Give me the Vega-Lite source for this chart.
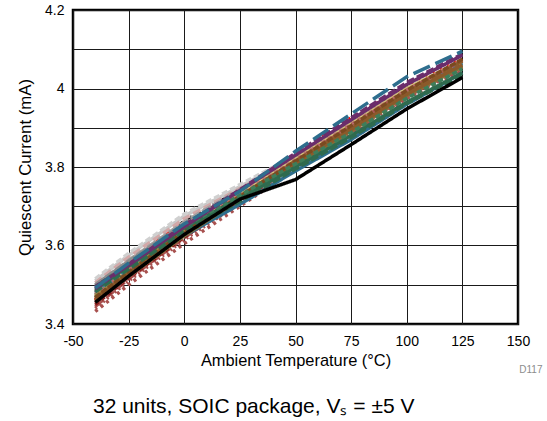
{
  "$schema": "https://vega.github.io/schema/vega-lite/v6.json",
  "width": 445,
  "height": 314,
  "autosize": {"type": "none"},
  "padding": {"left": 73, "top": 10, "right": 29, "bottom": 97},
  "background": "white",
  "config": {
    "font": "Liberation Sans",
    "view": {"stroke": "black", "strokeWidth": 2.5},
    "axis": {"labelFont": "Liberation Sans", "titleFont": "Liberation Sans", "labelColor": "black", "titleColor": "black", "titleFontWeight": "normal", "labelFontSize": 14, "titleFontSize": 16.4, "tickSize": 0, "domain": false, "gridColor": "#1a1a1a", "gridOpacity": 1, "gridWidth": 1}
  },
  "title": {"text": "32 units, SOIC package, Vₛ = ±5 V", "orient": "bottom", "anchor": "start", "frame": "group", "dx": 20, "offset": 22, "fontSize": 21, "fontWeight": "normal", "font": "Liberation Sans", "color": "black"},
  "data": {"values": [
    {"u":"U02","t":-40,"v":3.468},{"u":"U02","t":-25,"v":3.545},{"u":"U02","t":0,"v":3.662},{"u":"U02","t":25,"v":3.740},{"u":"U02","t":50,"v":3.812},{"u":"U02","t":75,"v":3.898},{"u":"U02","t":100,"v":3.988},{"u":"U02","t":125,"v":4.060},
    {"u":"U03","t":-40,"v":3.460},{"u":"U03","t":-25,"v":3.545},{"u":"U03","t":0,"v":3.672},{"u":"U03","t":25,"v":3.735},{"u":"U03","t":50,"v":3.808},{"u":"U03","t":75,"v":3.915},{"u":"U03","t":100,"v":3.980},{"u":"U03","t":125,"v":4.058},
    {"u":"U04","t":-40,"v":3.480},{"u":"U04","t":-25,"v":3.528},{"u":"U04","t":0,"v":3.650},{"u":"U04","t":25,"v":3.730},{"u":"U04","t":50,"v":3.822},{"u":"U04","t":75,"v":3.905},{"u":"U04","t":100,"v":3.995},{"u":"U04","t":125,"v":4.065},
    {"u":"U30","t":-40,"v":3.462},{"u":"U30","t":-25,"v":3.535},{"u":"U30","t":0,"v":3.655},{"u":"U30","t":25,"v":3.735},{"u":"U30","t":50,"v":3.830},{"u":"U30","t":75,"v":3.925},{"u":"U30","t":100,"v":4.005},{"u":"U30","t":125,"v":4.075},
    {"u":"U07","t":-40,"v":3.510},{"u":"U07","t":-25,"v":3.575},{"u":"U07","t":0,"v":3.675},{"u":"U07","t":25,"v":3.750},{"u":"U07","t":50,"v":3.825},{"u":"U07","t":75,"v":3.905},{"u":"U07","t":100,"v":3.992},{"u":"U07","t":125,"v":4.065},
    {"u":"U28","t":-40,"v":3.515},{"u":"U28","t":-25,"v":3.580},{"u":"U28","t":0,"v":3.680},{"u":"U28","t":25,"v":3.755},{"u":"U28","t":50,"v":3.830},{"u":"U28","t":75,"v":3.910},{"u":"U28","t":100,"v":3.995},{"u":"U28","t":125,"v":4.068},
    {"u":"U08","t":-40,"v":3.505},{"u":"U08","t":-25,"v":3.570},{"u":"U08","t":0,"v":3.668},{"u":"U08","t":25,"v":3.745},{"u":"U08","t":50,"v":3.820},{"u":"U08","t":75,"v":3.900},{"u":"U08","t":100,"v":3.985},{"u":"U08","t":125,"v":4.060},
    {"u":"U29","t":-40,"v":3.498},{"u":"U29","t":-25,"v":3.562},{"u":"U29","t":0,"v":3.660},{"u":"U29","t":25,"v":3.742},{"u":"U29","t":50,"v":3.825},{"u":"U29","t":75,"v":3.910},{"u":"U29","t":100,"v":3.998},{"u":"U29","t":125,"v":4.070},
    {"u":"U18","t":-40,"v":3.500},{"u":"U18","t":-25,"v":3.560},{"u":"U18","t":0,"v":3.655},{"u":"U18","t":25,"v":3.735},{"u":"U18","t":50,"v":3.818},{"u":"U18","t":75,"v":3.900},{"u":"U18","t":100,"v":3.988},{"u":"U18","t":125,"v":4.062},
    {"u":"U19","t":-40,"v":3.485},{"u":"U19","t":-25,"v":3.545},{"u":"U19","t":0,"v":3.642},{"u":"U19","t":25,"v":3.726},{"u":"U19","t":50,"v":3.812},{"u":"U19","t":75,"v":3.898},{"u":"U19","t":100,"v":3.986},{"u":"U19","t":125,"v":4.058},
    {"u":"U17","t":-40,"v":3.470},{"u":"U17","t":-25,"v":3.535},{"u":"U17","t":0,"v":3.640},{"u":"U17","t":25,"v":3.730},{"u":"U17","t":50,"v":3.818},{"u":"U17","t":75,"v":3.905},{"u":"U17","t":100,"v":3.998},{"u":"U17","t":125,"v":4.068},
    {"u":"U27","t":-40,"v":3.478},{"u":"U27","t":-25,"v":3.542},{"u":"U27","t":0,"v":3.645},{"u":"U27","t":25,"v":3.735},{"u":"U27","t":50,"v":3.822},{"u":"U27","t":75,"v":3.910},{"u":"U27","t":100,"v":4.000},{"u":"U27","t":125,"v":4.072},
    {"u":"U05","t":-40,"v":3.432},{"u":"U05","t":-25,"v":3.500},{"u":"U05","t":0,"v":3.605},{"u":"U05","t":25,"v":3.700},{"u":"U05","t":50,"v":3.795},{"u":"U05","t":75,"v":3.880},{"u":"U05","t":100,"v":3.975},{"u":"U05","t":125,"v":4.045},
    {"u":"U06","t":-40,"v":3.445},{"u":"U06","t":-25,"v":3.515},{"u":"U06","t":0,"v":3.620},{"u":"U06","t":25,"v":3.715},{"u":"U06","t":50,"v":3.805},{"u":"U06","t":75,"v":3.890},{"u":"U06","t":100,"v":3.980},{"u":"U06","t":125,"v":4.055},
    {"u":"U32","t":-40,"v":3.440},{"u":"U32","t":-25,"v":3.510},{"u":"U32","t":0,"v":3.615},{"u":"U32","t":25,"v":3.708},{"u":"U32","t":50,"v":3.800},{"u":"U32","t":75,"v":3.885},{"u":"U32","t":100,"v":3.978},{"u":"U32","t":125,"v":4.050},
    {"u":"U24","t":-40,"v":3.450},{"u":"U24","t":-25,"v":3.518},{"u":"U24","t":0,"v":3.622},{"u":"U24","t":25,"v":3.715},{"u":"U24","t":50,"v":3.805},{"u":"U24","t":75,"v":3.895},{"u":"U24","t":100,"v":3.985},{"u":"U24","t":125,"v":4.060},
    {"u":"U10","t":-40,"v":3.475},{"u":"U10","t":-25,"v":3.530},{"u":"U10","t":0,"v":3.625},{"u":"U10","t":25,"v":3.705},{"u":"U10","t":50,"v":3.790},{"u":"U10","t":75,"v":3.870},{"u":"U10","t":100,"v":3.960},{"u":"U10","t":125,"v":4.040},
    {"u":"U23","t":-40,"v":3.480},{"u":"U23","t":-25,"v":3.542},{"u":"U23","t":0,"v":3.638},{"u":"U23","t":25,"v":3.722},{"u":"U23","t":50,"v":3.812},{"u":"U23","t":75,"v":3.900},{"u":"U23","t":100,"v":3.990},{"u":"U23","t":125,"v":4.065},
    {"u":"U20","t":-40,"v":3.455},{"u":"U20","t":-25,"v":3.520},{"u":"U20","t":0,"v":3.628},{"u":"U20","t":25,"v":3.725},{"u":"U20","t":50,"v":3.815},{"u":"U20","t":75,"v":3.905},{"u":"U20","t":100,"v":3.995},{"u":"U20","t":125,"v":4.072},
    {"u":"U21","t":-40,"v":3.475},{"u":"U21","t":-25,"v":3.538},{"u":"U21","t":0,"v":3.640},{"u":"U21","t":25,"v":3.728},{"u":"U21","t":50,"v":3.818},{"u":"U21","t":75,"v":3.908},{"u":"U21","t":100,"v":3.996},{"u":"U21","t":125,"v":4.070},
    {"u":"U31","t":-40,"v":3.472},{"u":"U31","t":-25,"v":3.536},{"u":"U31","t":0,"v":3.638},{"u":"U31","t":25,"v":3.724},{"u":"U31","t":50,"v":3.810},{"u":"U31","t":75,"v":3.896},{"u":"U31","t":100,"v":3.986},{"u":"U31","t":125,"v":4.058},
    {"u":"U16","t":-40,"v":3.458},{"u":"U16","t":-25,"v":3.522},{"u":"U16","t":0,"v":3.625},{"u":"U16","t":25,"v":3.718},{"u":"U16","t":50,"v":3.805},{"u":"U16","t":75,"v":3.892},{"u":"U16","t":100,"v":3.982},{"u":"U16","t":125,"v":4.055},
    {"u":"U14","t":-40,"v":3.465},{"u":"U14","t":-25,"v":3.530},{"u":"U14","t":0,"v":3.632},{"u":"U14","t":25,"v":3.722},{"u":"U14","t":50,"v":3.810},{"u":"U14","t":75,"v":3.895},{"u":"U14","t":100,"v":3.985},{"u":"U14","t":125,"v":4.060},
    {"u":"U15","t":-40,"v":3.462},{"u":"U15","t":-25,"v":3.528},{"u":"U15","t":0,"v":3.630},{"u":"U15","t":25,"v":3.725},{"u":"U15","t":50,"v":3.815},{"u":"U15","t":75,"v":3.900},{"u":"U15","t":100,"v":3.990},{"u":"U15","t":125,"v":4.070},
    {"u":"U26","t":-40,"v":3.468},{"u":"U26","t":-25,"v":3.532},{"u":"U26","t":0,"v":3.636},{"u":"U26","t":25,"v":3.725},{"u":"U26","t":50,"v":3.815},{"u":"U26","t":75,"v":3.905},{"u":"U26","t":100,"v":3.995},{"u":"U26","t":125,"v":4.075},
    {"u":"U12","t":-40,"v":3.488},{"u":"U12","t":-25,"v":3.548},{"u":"U12","t":0,"v":3.645},{"u":"U12","t":25,"v":3.720},{"u":"U12","t":50,"v":3.800},{"u":"U12","t":75,"v":3.880},{"u":"U12","t":100,"v":3.965},{"u":"U12","t":125,"v":4.040},
    {"u":"U13","t":-40,"v":3.482},{"u":"U13","t":-25,"v":3.540},{"u":"U13","t":0,"v":3.635},{"u":"U13","t":25,"v":3.712},{"u":"U13","t":50,"v":3.795},{"u":"U13","t":75,"v":3.875},{"u":"U13","t":100,"v":3.962},{"u":"U13","t":125,"v":4.035},
    {"u":"U25","t":-40,"v":3.495},{"u":"U25","t":-25,"v":3.552},{"u":"U25","t":0,"v":3.648},{"u":"U25","t":25,"v":3.728},{"u":"U25","t":50,"v":3.808},{"u":"U25","t":75,"v":3.888},{"u":"U25","t":100,"v":3.975},{"u":"U25","t":125,"v":4.050},
    {"u":"U11","t":-40,"v":3.495},{"u":"U11","t":-25,"v":3.550},{"u":"U11","t":0,"v":3.648},{"u":"U11","t":25,"v":3.740},{"u":"U11","t":50,"v":3.830},{"u":"U11","t":75,"v":3.920},{"u":"U11","t":100,"v":4.010},{"u":"U11","t":125,"v":4.085},
    {"u":"U22","t":-40,"v":3.490},{"u":"U22","t":-25,"v":3.552},{"u":"U22","t":0,"v":3.652},{"u":"U22","t":25,"v":3.742},{"u":"U22","t":50,"v":3.835},{"u":"U22","t":75,"v":3.925},{"u":"U22","t":100,"v":4.015},{"u":"U22","t":125,"v":4.088},
    {"u":"U09","t":-40,"v":3.492},{"u":"U09","t":-25,"v":3.555},{"u":"U09","t":0,"v":3.655},{"u":"U09","t":25,"v":3.738},{"u":"U09","t":50,"v":3.840},{"u":"U09","t":75,"v":3.935},{"u":"U09","t":100,"v":4.030},{"u":"U09","t":125,"v":4.095},
    {"u":"U01","t":-40,"v":3.455},{"u":"U01","t":-25,"v":3.522},{"u":"U01","t":0,"v":3.628},{"u":"U01","t":25,"v":3.718},{"u":"U01","t":50,"v":3.768},{"u":"U01","t":75,"v":3.857},{"u":"U01","t":100,"v":3.948},{"u":"U01","t":125,"v":4.028}
  ]},
  "layer": [
    {
      "mark": {"type": "line", "strokeWidth": 3.5, "clip": true},
      "encoding": {
        "x": {"field": "t", "type": "quantitative", "scale": {"domain": [-50, 150], "nice": false},
          "axis": {"values": [-50, -25, 0, 25, 50, 75, 100, 125, 150], "labelExpr": "replace(datum.label, '−', '-')", "title": "Ambient Temperature (°C)", "labelPadding": 10, "titlePadding": 4, "grid": true, "labelFlush": false}},
        "y": {"field": "v", "type": "quantitative", "scale": {"domain": [3.4, 4.2], "nice": false, "zero": false},
          "axis": {"values": [3.4, 3.5, 3.6, 3.7, 3.8, 3.9, 4.0, 4.1, 4.2], "labelExpr": "round(datum.value*10) % 2 == 0 ? format(datum.value, '~g') : ''", "title": "Quiescent Current (mA)", "titleFontSize": 16.8, "labelPadding": 9, "titlePadding": 10, "grid": true, "labelFlush": false}},
        "color": {"field": "u", "type": "nominal", "legend": null,
          "scale": {"domain": ["U01","U02","U03","U04","U05","U06","U07","U08","U09","U10","U11","U12","U13","U14","U15","U16","U17","U18","U19","U20","U21","U22","U23","U24","U25","U26","U27","U28","U29","U30","U31","U32"],
            "range": ["#000000","#000000","#FF0000","#FF0000","#A8514F","#A8514F","#C8C8C8","#D2A8A8","#2E6E8E","#2E6E8E","#6B2D6B","#2F6B4F","#2F6B4F","#8B5A2B","#8B5A2B","#857238","#D8CE8C","#8C8C8C","#5A5A5A","#A8514F","#B86A6A","#6B2D6B","#3A7A9A","#8B1A1A","#3E7D5A","#7A4A20","#CFC37A","#D0D0D0","#A0A0A0","#FF0000","#9A8A4A","#A8514F"]}},
        "strokeDash": {"field": "u", "type": "nominal", "legend": null,
          "scale": {"domain": ["U01","U02","U03","U04","U05","U06","U07","U08","U09","U10","U11","U12","U13","U14","U15","U16","U17","U18","U19","U20","U21","U22","U23","U24","U25","U26","U27","U28","U29","U30","U31","U32"],
            "range": [[1,0],[6,4],[6,6],[3,5],[3,4],[10,4],[1,0],[8,4],[18,6],[1,0],[1,0],[1,0],[8,3],[1,0],[10,3],[1,0],[6,3],[1,0],[6,3],[1,0],[4,3],[8,3],[12,4],[4,4],[5,3],[6,2],[1,0],[6,3],[10,3],[2,6],[8,4],[2,3]]}}
      }
    },
    {
      "mark": {"type": "rule", "opacity": 0},
      "encoding": {
        "y": {"field": "v", "type": "quantitative", "aggregate": "min",
          "axis": {"orient": "right", "title": "D117", "labels": false, "ticks": false, "domain": false, "grid": false, "titleAngle": 0, "titleAlign": "right", "titleBaseline": "middle", "titleX": 24, "titleY": 359, "titleColor": "#8c8c8c", "titleFontSize": 10}}
      }
    }
  ],
  "resolve": {"axis": {"y": "independent"}}
}
